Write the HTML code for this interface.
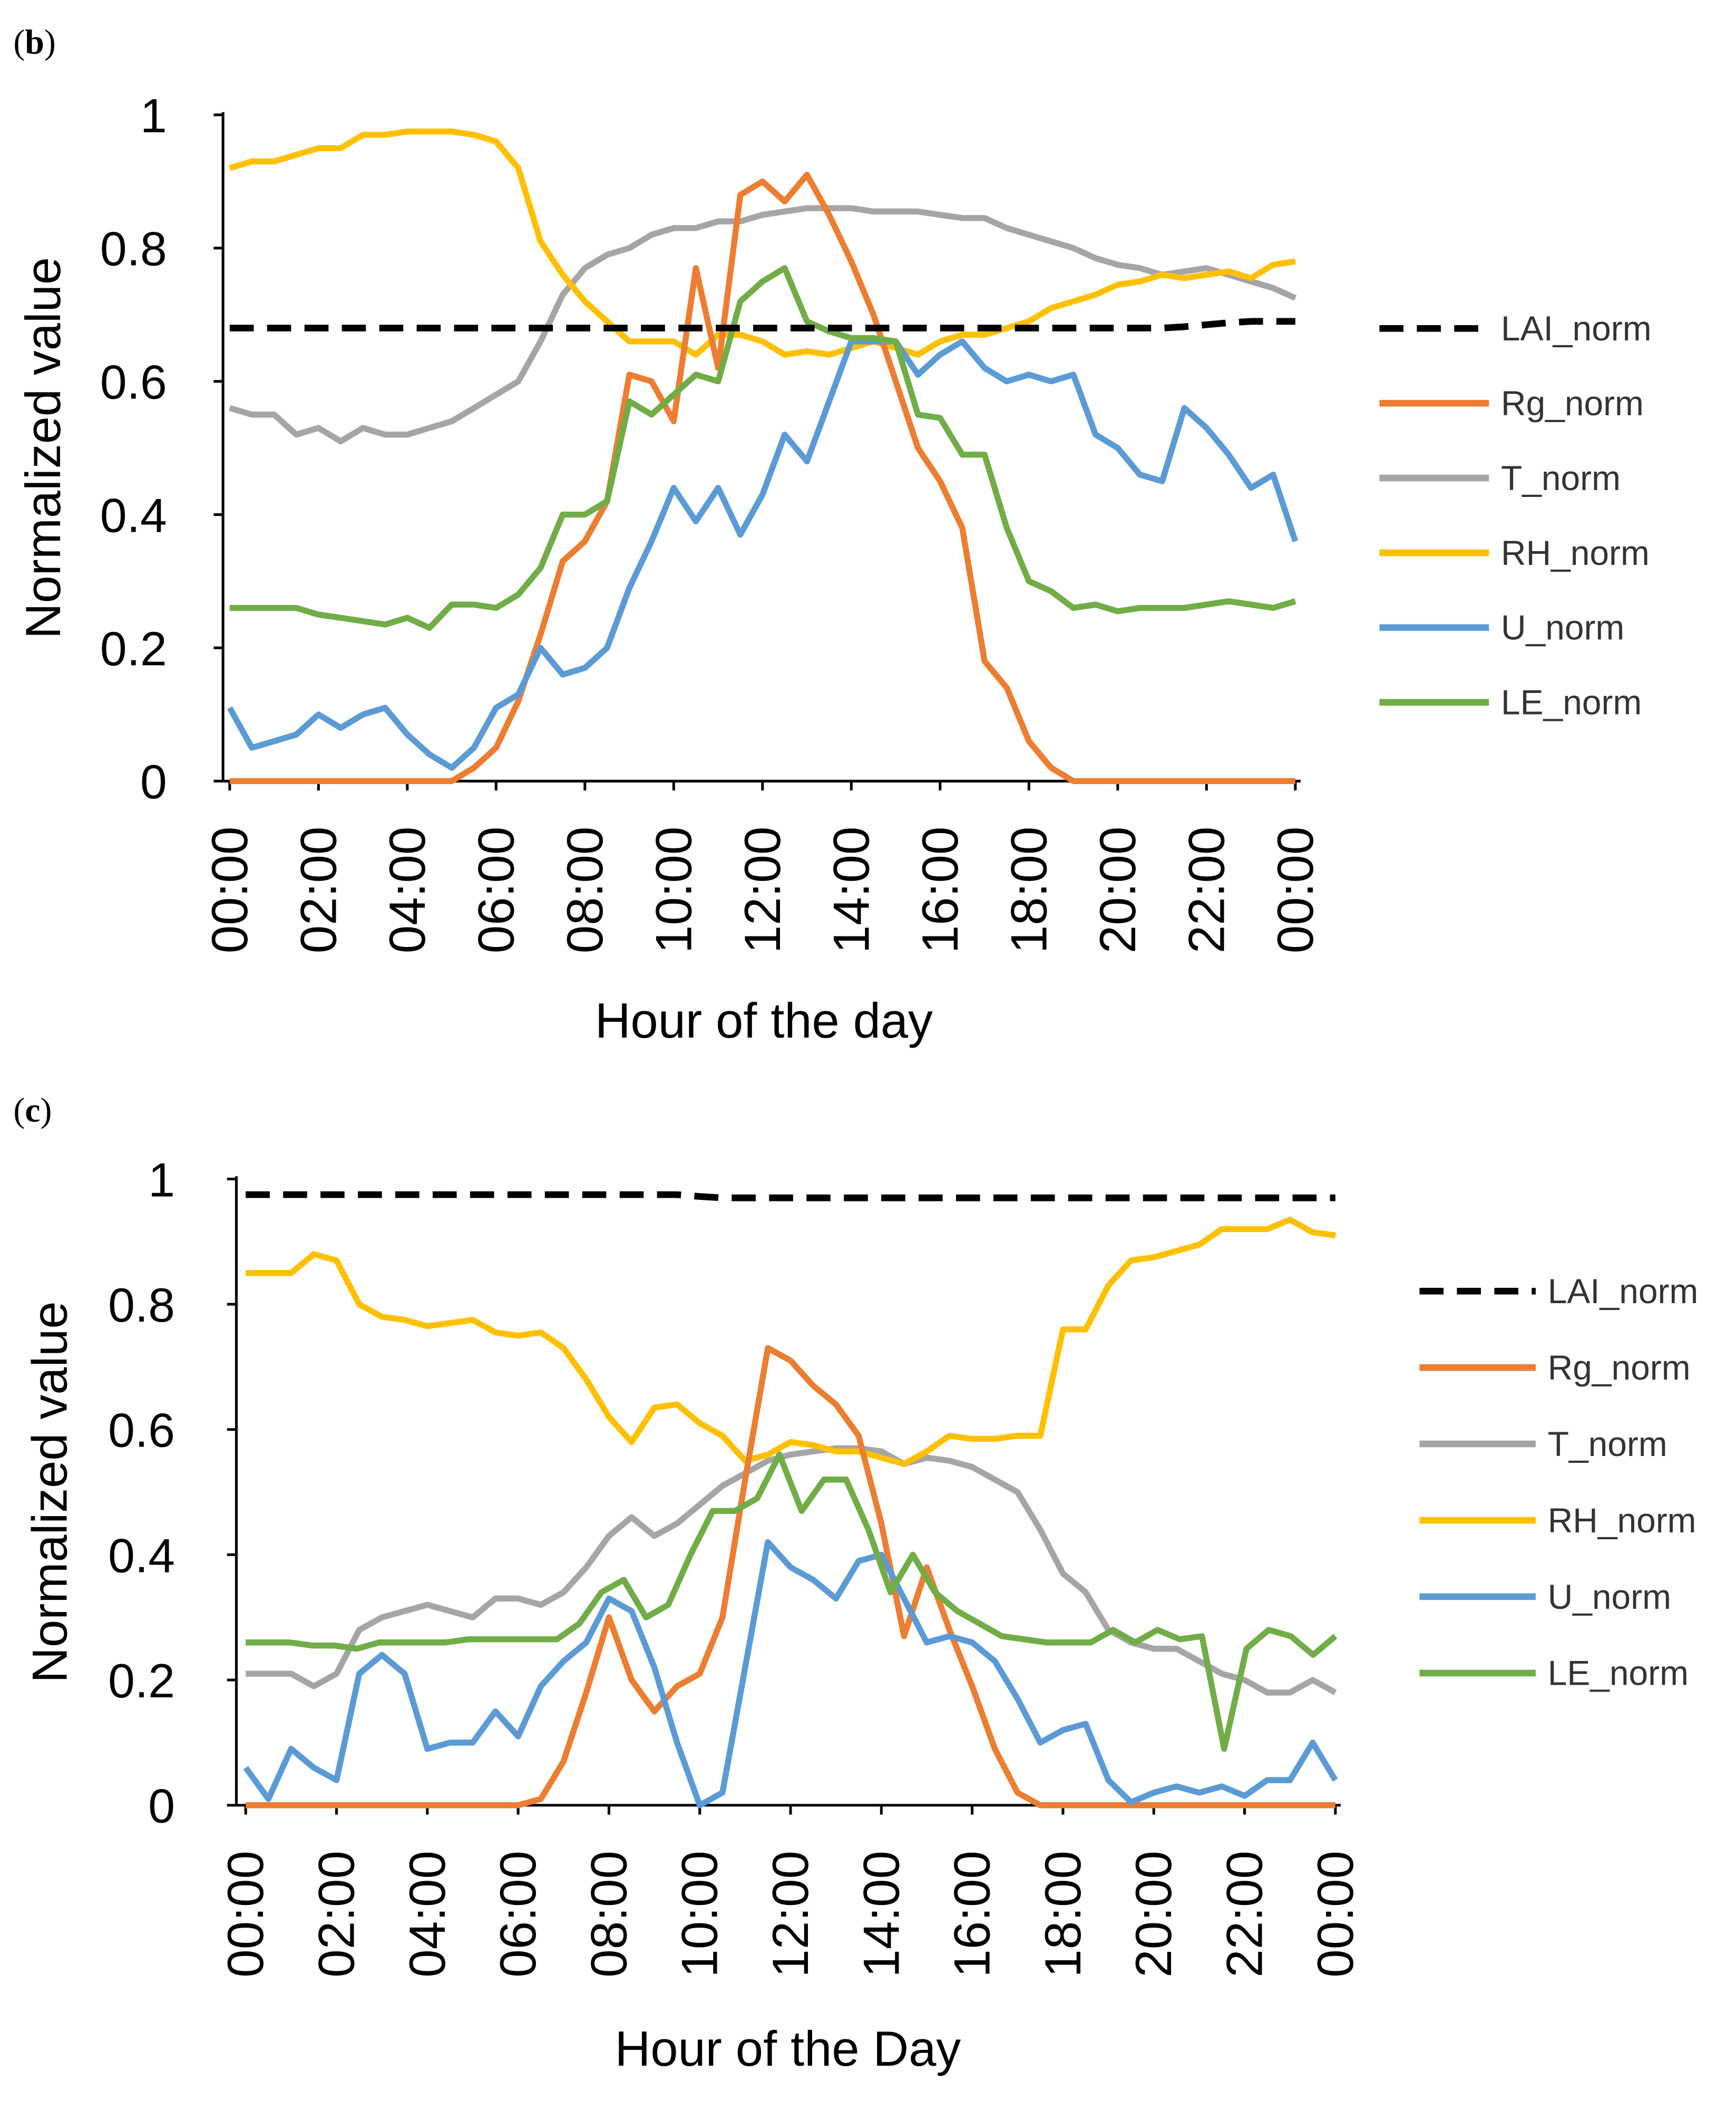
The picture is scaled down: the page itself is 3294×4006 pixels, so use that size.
<!DOCTYPE html>
<html><head><meta charset="utf-8">
<style>html,body{margin:0;padding:0;background:#fff}svg{display:block}</style></head>
<body>
<svg id="chart" width="3294" height="4006" viewBox="0 0 1300 1581" xmlns="http://www.w3.org/2000/svg" font-family="'Liberation Sans', 'DejaVu Sans', sans-serif">
<rect width="1300" height="1581" fill="#fff"/>
</svg>
<script>
const hourTicks = ["00:00","02:00","04:00","06:00","08:00","10:00","12:00","14:00","16:00","18:00","20:00","22:00","00:00"];
const yTicks = ["0","0.2","0.4","0.6","0.8","1"];
const seriesNames = ["LAI_norm","Rg_norm","T_norm","RH_norm","U_norm","LE_norm"];
const colors = ["#000000","#ED7D31","#A5A5A5","#FFC000","#5B9BD5","#70AD47"];

const b_LAI = [0.68,0.68,0.68,0.68,0.68,0.68,0.68,0.68,0.68,0.68,0.68,0.68,0.68,0.68,0.68,0.68,0.68,0.68,0.68,0.68,0.68,0.68,0.68,0.68,0.68,0.68,0.68,0.68,0.68,0.68,0.68,0.68,0.68,0.68,0.68,0.68,0.68,0.68,0.68,0.68,0.68,0.68,0.68,0.682,0.685,0.688,0.69,0.69,0.69];
const b_Rg = [0,0,0,0,0,0,0,0,0,0,0,0.02,0.05,0.12,0.22,0.33,0.36,0.42,0.61,0.60,0.54,0.77,0.62,0.88,0.90,0.87,0.91,0.85,0.78,0.70,0.60,0.50,0.45,0.38,0.18,0.14,0.06,0.02,0,0,0,0,0,0,0,0,0,0,0];
const b_T = [0.56,0.55,0.55,0.52,0.53,0.51,0.53,0.52,0.52,0.53,0.54,0.56,0.58,0.60,0.66,0.73,0.77,0.79,0.80,0.82,0.83,0.83,0.84,0.84,0.85,0.855,0.86,0.86,0.86,0.855,0.855,0.855,0.85,0.845,0.845,0.83,0.82,0.81,0.80,0.785,0.775,0.77,0.76,0.765,0.77,0.76,0.75,0.74,0.725];
const b_RH = [0.92,0.93,0.93,0.94,0.95,0.95,0.97,0.97,0.975,0.975,0.975,0.97,0.96,0.92,0.81,0.76,0.72,0.69,0.66,0.66,0.66,0.64,0.67,0.67,0.66,0.64,0.645,0.64,0.65,0.66,0.65,0.64,0.66,0.67,0.67,0.68,0.69,0.71,0.72,0.73,0.745,0.75,0.76,0.755,0.76,0.765,0.755,0.775,0.78];
const b_U = [0.11,0.05,0.06,0.07,0.10,0.08,0.10,0.11,0.07,0.04,0.02,0.05,0.11,0.13,0.20,0.16,0.17,0.20,0.29,0.36,0.44,0.39,0.44,0.37,0.43,0.52,0.48,0.57,0.66,0.66,0.66,0.61,0.64,0.66,0.62,0.60,0.61,0.60,0.61,0.52,0.50,0.46,0.45,0.56,0.53,0.49,0.44,0.46,0.36];
const b_LE = [0.26,0.26,0.26,0.26,0.25,0.245,0.24,0.235,0.245,0.23,0.265,0.265,0.26,0.28,0.32,0.40,0.40,0.42,0.57,0.55,0.58,0.61,0.60,0.72,0.75,0.77,0.69,0.675,0.665,0.665,0.66,0.55,0.545,0.49,0.49,0.38,0.30,0.285,0.26,0.265,0.255,0.26,0.26,0.26,0.265,0.27,0.265,0.26,0.27];

const c_LAI = [0.975,0.975,0.975,0.975,0.975,0.975,0.975,0.975,0.975,0.975,0.975,0.975,0.975,0.975,0.975,0.975,0.975,0.975,0.975,0.975,0.972,0.97,0.97,0.97,0.97,0.97,0.97,0.97,0.97,0.97,0.97,0.97,0.97,0.97,0.97,0.97,0.97,0.97,0.97,0.97,0.97,0.97,0.97,0.97,0.97,0.97,0.97,0.97,0.97];
const c_Rg = [0,0,0,0,0,0,0,0,0,0,0,0,0,0.01,0.07,0.18,0.30,0.20,0.15,0.19,0.21,0.30,0.52,0.73,0.71,0.67,0.64,0.59,0.45,0.27,0.38,0.28,0.19,0.09,0.02,0,0,0,0,0,0,0,0,0,0,0,0,0,0];
const c_T = [0.21,0.21,0.21,0.19,0.21,0.28,0.30,0.31,0.32,0.31,0.30,0.33,0.33,0.32,0.34,0.38,0.43,0.46,0.43,0.45,0.48,0.51,0.53,0.55,0.56,0.565,0.57,0.57,0.565,0.545,0.555,0.55,0.54,0.52,0.50,0.44,0.37,0.34,0.28,0.26,0.25,0.25,0.23,0.21,0.20,0.18,0.18,0.20,0.18];
const c_RH = [0.85,0.85,0.85,0.88,0.87,0.80,0.78,0.775,0.765,0.77,0.775,0.755,0.75,0.755,0.73,0.68,0.62,0.58,0.635,0.64,0.61,0.59,0.55,0.56,0.58,0.575,0.565,0.565,0.555,0.545,0.565,0.59,0.585,0.585,0.59,0.59,0.76,0.76,0.83,0.87,0.875,0.885,0.895,0.92,0.92,0.92,0.935,0.915,0.91];
const c_U = [0.06,0.01,0.09,0.06,0.04,0.21,0.24,0.21,0.09,0.10,0.10,0.15,0.11,0.19,0.23,0.26,0.33,0.31,0.22,0.10,0.00,0.02,0.22,0.42,0.38,0.36,0.33,0.39,0.40,0.33,0.26,0.27,0.26,0.23,0.17,0.10,0.12,0.13,0.04,0.005,0.02,0.03,0.02,0.03,0.015,0.04,0.04,0.10,0.04];
const c_LE = [0.26,0.26,0.26,0.255,0.255,0.25,0.26,0.26,0.26,0.26,0.265,0.265,0.265,0.265,0.265,0.29,0.34,0.36,0.30,0.32,0.40,0.47,0.47,0.49,0.56,0.47,0.52,0.52,0.44,0.34,0.40,0.34,0.31,0.29,0.27,0.265,0.26,0.26,0.26,0.28,0.26,0.28,0.265,0.27,0.09,0.25,0.28,0.27,0.24,0.27];

const svg = document.getElementById('chart');
const NS = 'http://www.w3.org/2000/svg';
function mk(tag, attrs, parent){const e=document.createElementNS(NS,tag);for(const k in attrs)e.setAttribute(k,attrs[k]);(parent||svg).appendChild(e);return e;}

function panel(cfg){
  const g = mk('g',{});
  
  
  const xs = h => cfg.x0 + (cfg.x1-cfg.x0)*h/24;
  const ys = v => cfg.y0 - (cfg.y0-cfg.y1)*v;
  const pl = mk('text',{x:10,y:cfg.labelY,'font-family':"'Liberation Serif', serif",'font-size':26},g);
  pl.innerHTML = '(<tspan font-weight="bold">'+cfg.letter+'</tspan>)';
  
  
  const ya = mk('line',{x1:cfg.ax,y1:cfg.y1-2,x2:cfg.ax,y2:cfg.y0,stroke:'#000','stroke-width':2},g);
  
  
  const xa = mk('line',{x1:cfg.ax,y1:cfg.y0,x2:cfg.x1+4,y2:cfg.y0,stroke:'#000','stroke-width':2},g);
  
  
  yTicks.forEach((t,i)=>{
    const v = i*0.2;
    mk('line',{x1:cfg.ax-7,y1:ys(v),x2:cfg.ax,y2:ys(v),stroke:'#000','stroke-width':2},g);
    const tx = mk('text',{x:cfg.ytx,y:ys(v)+13,'text-anchor':'end','font-size':36,fill:'#000'},g);
    tx.textContent = t;
    
    
  });
  hourTicks.forEach((t,i)=>{
    const x = xs(i*2);
    mk('line',{x1:x,y1:cfg.y0,x2:x,y2:cfg.y0+7,stroke:'#000','stroke-width':2},g);
    const tx = mk('text',{x:0,y:0,'text-anchor':'end','font-size':38,fill:'#000',transform:`translate(${x+13},${cfg.y0+cfg.xtOff}) rotate(-90)`},g);
    tx.textContent = t;
    
    
  });
  const yl = mk('text',{x:0,y:0,'text-anchor':'middle','font-size':37,transform:`translate(${cfg.ylx},${(cfg.y0+cfg.y1)/2}) rotate(-90)`},g);
  yl.textContent = 'Normalized value';
  
  
  const xl = mk('text',{x:cfg.xlx,y:cfg.xly,'text-anchor':'middle','font-size':37},g);
  xl.textContent = cfg.xtitle;
  
  
  const order = [2,3,1,4,5,0];
  order.forEach(si=>{
    const data = cfg.series[si];
    const pts = data.map((v,i)=>xs(24*i/(data.length-1)).toFixed(1)+','+ys(v).toFixed(1)).join(' ');
    const p = mk('polyline',{points:pts,fill:'none',stroke:colors[si],'stroke-width':si===0?5:4.5,'stroke-linejoin':'round','stroke-dasharray':si===0?'18,10':'none'},g);
    
    
  });
  seriesNames.forEach((n,i)=>{
    const y = cfg.legY + i*cfg.legDy;
    const le = mk('g',{},g);
    
    
    mk('line',{x1:cfg.legX,y1:y,x2:cfg.legX+cfg.legW,y2:y,stroke:colors[i],'stroke-width':5,'stroke-dasharray':i===0?'18,10':'none'},le);
    const t = mk('text',{x:cfg.legX+cfg.legW+9,y:y+9,'font-size':26,fill:'#333'},le);
    t.textContent = n;
  });
}
panel({id:'b',letter:'b',labelY:40,ax:167,x0:172,x1:970,y0:585,y1:86,ytx:125,ylx:45,xtOff:34,xlx:572,xly:777,xtitle:'Hour of the day',
  series:[b_LAI,b_Rg,b_T,b_RH,b_U,b_LE],legX:1033,legW:82,legY:246,legDy:56});
panel({id:'c',letter:'c',labelY:840,ax:177,x0:184,x1:1000,y0:1352,y1:883,ytx:131,ylx:50,xtOff:34,xlx:590,xly:1547,xtitle:'Hour of the Day',
  series:[c_LAI,c_Rg,c_T,c_RH,c_U,c_LE],legX:1063,legW:87,legY:967,legDy:57.2});
</script>
</body></html>
